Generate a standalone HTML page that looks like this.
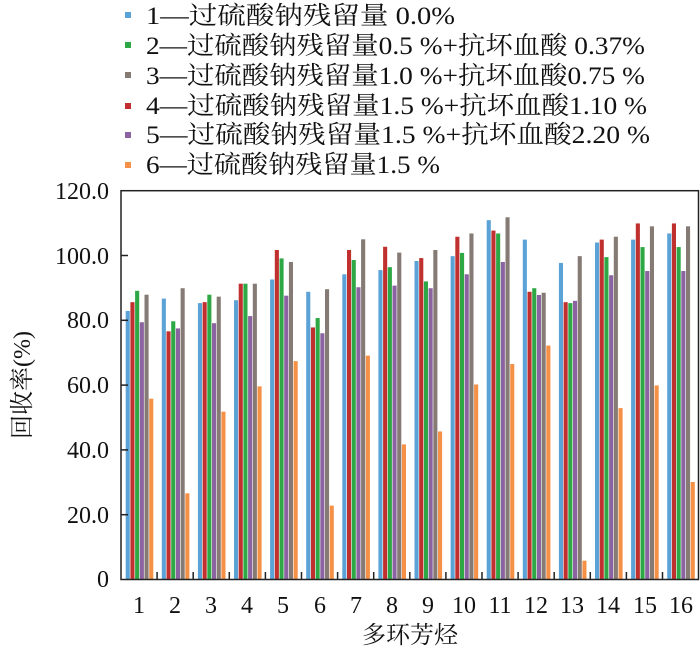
<!DOCTYPE html>
<html><head><meta charset="utf-8"><style>body{margin:0;background:#fff}svg{display:block}</style></head><body>
<svg width="700" height="653" xmlns="http://www.w3.org/2000/svg" font-family="'Liberation Serif','Noto Serif CJK SC',serif">
<style>.b{fill:#5ba3d6}.r{fill:#c0302e}.g{fill:#2ea845}.p{fill:#8a63a0}.y{fill:#857b74}.o{fill:#f59047}</style>
<!-- legend -->
<rect x="125" y="12" width="6" height="6" class="b"/>
<rect x="125" y="42" width="6" height="6" class="g"/>
<rect x="125" y="72" width="6" height="6" class="y"/>
<rect x="125" y="103" width="6" height="6" class="r"/>
<rect x="125" y="132" width="6" height="6" class="p"/>
<rect x="125" y="162" width="6" height="6" class="o"/>
<g font-size="25" fill="#111">
<text x="146" y="24" textLength="309" lengthAdjust="spacingAndGlyphs">1—过硫酸钠残留量 0.0%</text>
<text x="146" y="54" textLength="499" lengthAdjust="spacingAndGlyphs">2—过硫酸钠残留量0.5 %+抗坏血酸 0.37%</text>
<text x="146" y="84" textLength="499" lengthAdjust="spacingAndGlyphs">3—过硫酸钠残留量1.0 %+抗坏血酸0.75 %</text>
<text x="146" y="114" textLength="501" lengthAdjust="spacingAndGlyphs">4—过硫酸钠残留量1.5 %+抗坏血酸1.10 %</text>
<text x="146" y="143" textLength="504" lengthAdjust="spacingAndGlyphs">5—过硫酸钠残留量1.5 %+抗坏血酸2.20 %</text>
<text x="146" y="173" textLength="294" lengthAdjust="spacingAndGlyphs">6—过硫酸钠残留量1.5 %</text>
</g>
<!-- bars -->
<g transform="translate(0,579.5) scale(1,-3.24)">
<g transform="translate(121,0)"><rect x="4.7" width="4.1" height="82.9" class="b"/><rect x="9.4" width="4.1" height="85.6" class="r"/><rect x="14.1" width="4.1" height="89.1" class="g"/><rect x="18.8" width="4.1" height="79.4" class="p"/><rect x="23.5" width="4.1" height="87.9" class="y"/><rect x="28.2" width="4.1" height="55.8" class="o"/></g>
<g transform="translate(157.1,0)"><rect x="4.7" width="4.1" height="86.7" class="b"/><rect x="9.4" width="4.1" height="76.6" class="r"/><rect x="14.1" width="4.1" height="79.7" class="g"/><rect x="18.8" width="4.1" height="77.5" class="p"/><rect x="23.5" width="4.1" height="89.9" class="y"/><rect x="28.2" width="4.1" height="26.6" class="o"/></g>
<g transform="translate(193.2,0)"><rect x="4.7" width="4.1" height="85.3" class="b"/><rect x="9.4" width="4.1" height="85.6" class="r"/><rect x="14.1" width="4.1" height="87.9" class="g"/><rect x="18.8" width="4.1" height="79.1" class="p"/><rect x="23.5" width="4.1" height="87.3" class="y"/><rect x="28.2" width="4.1" height="51.8" class="o"/></g>
<g transform="translate(229.3,0)"><rect x="4.7" width="4.1" height="86.2" class="b"/><rect x="9.4" width="4.1" height="91.3" class="r"/><rect x="14.1" width="4.1" height="91.3" class="g"/><rect x="18.8" width="4.1" height="81.3" class="p"/><rect x="23.5" width="4.1" height="91.3" class="y"/><rect x="28.2" width="4.1" height="59.6" class="o"/></g>
<g transform="translate(265.4,0)"><rect x="4.7" width="4.1" height="92.6" class="b"/><rect x="9.4" width="4.1" height="101.7" class="r"/><rect x="14.1" width="4.1" height="99.1" class="g"/><rect x="18.8" width="4.1" height="87.6" class="p"/><rect x="23.5" width="4.1" height="98" class="y"/><rect x="28.2" width="4.1" height="67.4" class="o"/></g>
<g transform="translate(301.5,0)"><rect x="4.7" width="4.1" height="88.8" class="b"/><rect x="9.4" width="4.1" height="77.8" class="r"/><rect x="14.1" width="4.1" height="80.7" class="g"/><rect x="18.8" width="4.1" height="76" class="p"/><rect x="23.5" width="4.1" height="89.6" class="y"/><rect x="28.2" width="4.1" height="22.8" class="o"/></g>
<g transform="translate(337.6,0)"><rect x="4.7" width="4.1" height="94.2" class="b"/><rect x="9.4" width="4.1" height="101.7" class="r"/><rect x="14.1" width="4.1" height="98.6" class="g"/><rect x="18.8" width="4.1" height="90.2" class="p"/><rect x="23.5" width="4.1" height="105" class="y"/><rect x="28.2" width="4.1" height="69.1" class="o"/></g>
<g transform="translate(373.7,0)"><rect x="4.7" width="4.1" height="95.5" class="b"/><rect x="9.4" width="4.1" height="102.7" class="r"/><rect x="14.1" width="4.1" height="96.4" class="g"/><rect x="18.8" width="4.1" height="90.7" class="p"/><rect x="23.5" width="4.1" height="100.9" class="y"/><rect x="28.2" width="4.1" height="41.7" class="o"/></g>
<g transform="translate(409.8,0)"><rect x="4.7" width="4.1" height="98.3" class="b"/><rect x="9.4" width="4.1" height="99.2" class="r"/><rect x="14.1" width="4.1" height="92" class="g"/><rect x="18.8" width="4.1" height="89.9" class="p"/><rect x="23.5" width="4.1" height="101.7" class="y"/><rect x="28.2" width="4.1" height="45.7" class="o"/></g>
<g transform="translate(445.9,0)"><rect x="4.7" width="4.1" height="99.8" class="b"/><rect x="9.4" width="4.1" height="105.8" class="r"/><rect x="14.1" width="4.1" height="100.8" class="g"/><rect x="18.8" width="4.1" height="94.2" class="p"/><rect x="23.5" width="4.1" height="106.8" class="y"/><rect x="28.2" width="4.1" height="60.2" class="o"/></g>
<g transform="translate(482,0)"><rect x="4.7" width="4.1" height="110.9" class="b"/><rect x="9.4" width="4.1" height="107.7" class="r"/><rect x="14.1" width="4.1" height="106.8" class="g"/><rect x="18.8" width="4.1" height="98" class="p"/><rect x="23.5" width="4.1" height="111.8" class="y"/><rect x="28.2" width="4.1" height="66.5" class="o"/></g>
<g transform="translate(518.1,0)"><rect x="4.7" width="4.1" height="104.9" class="b"/><rect x="9.4" width="4.1" height="88.8" class="r"/><rect x="14.1" width="4.1" height="89.9" class="g"/><rect x="18.8" width="4.1" height="87.8" class="p"/><rect x="23.5" width="4.1" height="88.5" class="y"/><rect x="28.2" width="4.1" height="72.2" class="o"/></g>
<g transform="translate(554.2,0)"><rect x="4.7" width="4.1" height="97.7" class="b"/><rect x="9.4" width="4.1" height="85.6" class="r"/><rect x="14.1" width="4.1" height="85.3" class="g"/><rect x="18.8" width="4.1" height="86" class="p"/><rect x="23.5" width="4.1" height="99.8" class="y"/><rect x="28.2" width="4.1" height="5.8" class="o"/></g>
<g transform="translate(590.3,0)"><rect x="4.7" width="4.1" height="104" class="b"/><rect x="9.4" width="4.1" height="104.9" class="r"/><rect x="14.1" width="4.1" height="99.5" class="g"/><rect x="18.8" width="4.1" height="93.9" class="p"/><rect x="23.5" width="4.1" height="105.8" class="y"/><rect x="28.2" width="4.1" height="52.9" class="o"/></g>
<g transform="translate(626.4,0)"><rect x="4.7" width="4.1" height="104.9" class="b"/><rect x="9.4" width="4.1" height="109.9" class="r"/><rect x="14.1" width="4.1" height="102.6" class="g"/><rect x="18.8" width="4.1" height="95.2" class="p"/><rect x="23.5" width="4.1" height="109" class="y"/><rect x="28.2" width="4.1" height="59.9" class="o"/></g>
<g transform="translate(662.5,0)"><rect x="4.7" width="4.1" height="106.8" class="b"/><rect x="9.4" width="4.1" height="109.9" class="r"/><rect x="14.1" width="4.1" height="102.6" class="g"/><rect x="18.8" width="4.1" height="95.2" class="p"/><rect x="23.5" width="4.1" height="109" class="y"/><rect x="28.2" width="4.1" height="30.1" class="o"/></g>
</g>
<!-- frame -->
<rect x="121" y="190.7" width="577.5" height="388.8" fill="none" stroke="#222" stroke-width="1.5"/>
<g stroke="#222" stroke-width="1.5">
<line x1="121" y1="514.7" x2="128" y2="514.7"/><line x1="121" y1="449.9" x2="128" y2="449.9"/><line x1="121" y1="385.1" x2="128" y2="385.1"/><line x1="121" y1="320.3" x2="128" y2="320.3"/><line x1="121" y1="255.5" x2="128" y2="255.5"/>
<path d="M157.1 579v-7M193.2 579v-7M229.3 579v-7M265.4 579v-7M301.5 579v-7M337.6 579v-7M373.7 579v-7M409.8 579v-7M445.9 579v-7M482 579v-7M518.1 579v-7M554.2 579v-7M590.3 579v-7M626.4 579v-7M662.5 579v-7"/>
</g>
<g font-size="24" fill="#111" text-anchor="end">
<text x="109" y="587">0</text><text x="109" y="523">20.0</text><text x="109" y="458">40.0</text><text x="109" y="393">60.0</text><text x="109" y="328">80.0</text><text x="109" y="264">100.0</text><text x="109" y="199">120.0</text>
</g>
<g font-size="24" fill="#111" text-anchor="middle">
<text x="139" y="613">1</text><text x="175" y="613">2</text><text x="211" y="613">3</text><text x="247" y="613">4</text><text x="283" y="613">5</text><text x="320" y="613">6</text><text x="356" y="613">7</text><text x="392" y="613">8</text><text x="428" y="613">9</text><text x="464" y="613">10</text><text x="500" y="613">11</text><text x="536" y="613">12</text><text x="572" y="613">13</text><text x="608" y="613">14</text><text x="645" y="613">15</text><text x="681" y="613">16</text>
<text x="410" y="643" font-size="24">多环芳烃</text>
<text transform="translate(30,385) rotate(-90)" font-size="24">回收率(%)</text>
</g>
</svg>
</body></html>
